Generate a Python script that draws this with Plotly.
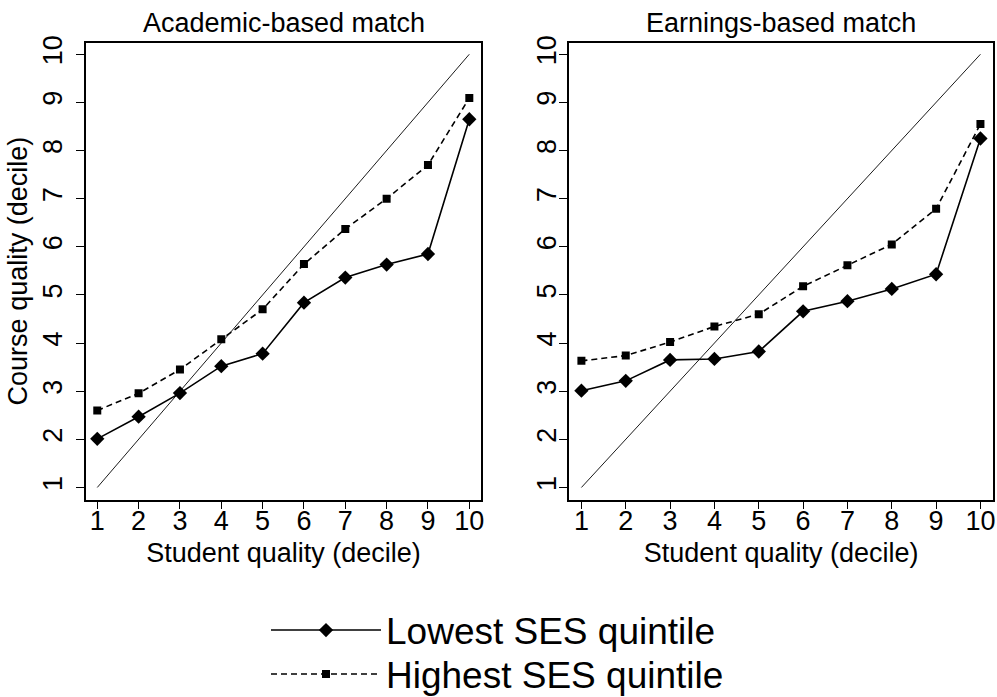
import plotly.graph_objects as go
from plotly.subplots import make_subplots

deciles = [1, 2, 3, 4, 5, 6, 7, 8, 9, 10]
tick_labels = ["1", "2", "3", "4", "5", "6", "7", "8", "9", "10"]

academic_lowest = [2.01, 2.47, 2.96, 3.52, 3.78, 4.84, 5.36, 5.63, 5.85, 8.65]
academic_highest = [2.60, 2.955, 3.45, 4.08, 4.70, 5.64, 6.37, 7.00, 7.70, 9.09]
earnings_lowest = [3.01, 3.215, 3.65, 3.67, 3.825, 4.66, 4.87, 5.125, 5.43, 8.25]
earnings_highest = [3.63, 3.74, 4.02, 4.345, 4.60, 5.18, 5.615, 6.05, 6.79, 8.55]

panel_titles = ["Academic-based match", "Earnings-based match"]
series_names = ["Lowest SES quintile", "Highest SES quintile"]

FONT = "Liberation Sans, Arial, sans-serif"
W, H = 997, 712   # figure a bit taller than the 697 window; the extra strip is blank

def fy(p):
    return 1 - p / H

def fx(p):
    return p / W

fig = make_subplots(rows=1, cols=2, horizontal_spacing=0.05)

panels = [(academic_lowest, academic_highest), (earnings_lowest, earnings_highest)]
for i, (low, high) in enumerate(panels):
    col = i + 1
    fig.add_trace(go.Scatter(x=deciles, y=deciles, mode="lines",
                             line=dict(color="black", width=0.9),
                             showlegend=False, hoverinfo="skip"), row=1, col=col)
    fig.add_trace(go.Scatter(x=deciles, y=low, mode="lines+markers", name=series_names[0],
                             line=dict(color="black", width=1.6),
                             marker=dict(symbol="diamond", size=11, color="black"),
                             legend="legend", showlegend=(i == 0)), row=1, col=col)
    fig.add_trace(go.Scatter(x=deciles, y=high, mode="lines+markers", name=series_names[1],
                             line=dict(color="black", width=1.6, dash="6px,4px"),
                             marker=dict(symbol="square", size=8, color="black"),
                             legend="legend2", showlegend=(i == 0)), row=1, col=col)

axis_common = dict(range=[0.72, 10.29], tickvals=deciles, ticktext=tick_labels,
                   showline=True, mirror=True, linecolor="black", linewidth=1.5,
                   ticks="outside", ticklen=8, tickwidth=1.3, tickcolor="black",
                   showgrid=False, zeroline=False, automargin=False,
                   ticklabelstandoff=-12,
                   tickfont=dict(family=FONT, size=27, color="black"))
yaxis_common = dict(range=[0.75, 10.24], tickvals=deciles, ticktext=tick_labels,
                    showline=True, mirror=True, linecolor="black", linewidth=1.5,
                    ticks="outside", ticklen=8, tickwidth=1.3, tickcolor="black",
                    showgrid=False, zeroline=False, tickangle=-90, automargin=False,
                    tickfont=dict(family=FONT, size=27, color="black"))

title_font = dict(family=FONT, size=27, color="black")
legend_common = dict(xanchor="left", yanchor="top", itemwidth=110,
                     font=dict(family=FONT, size=37, color="black"),
                     bgcolor="rgba(0,0,0,0)", borderwidth=0)

fig.update_layout(
    xaxis=dict(domain=[fx(85.7), fx(481.3)], **axis_common,
               title=dict(text="Student quality (decile)", font=title_font, standoff=8)),
    xaxis2=dict(domain=[fx(569), fx(993.3)], **axis_common,
                title=dict(text="Student quality (decile)", font=title_font, standoff=8)),
    yaxis=dict(domain=[fy(499.5), fy(42.7)], **yaxis_common, ticklabelstandoff=3,
               title=dict(text="Course quality (decile)", font=title_font, standoff=3)),
    yaxis2=dict(domain=[fy(499.5), fy(42.7)], **yaxis_common, ticklabelstandoff=-8),
    width=W, height=H,
    margin=dict(l=0, r=0, t=0, b=0),
    paper_bgcolor="white", plot_bgcolor="white",
    font=dict(family=FONT, color="black"),
    legend=dict(x=fx(266), y=fy(599.5), **legend_common),
    legend2=dict(x=fx(266), y=fy(643.5), **legend_common),
    annotations=[
        dict(text=panel_titles[0], x=fx((85.7 + 481.3) / 2), y=fy(23), xref="paper", yref="paper",
             xanchor="center", yanchor="middle", showarrow=False, font=title_font),
        dict(text=panel_titles[1], x=fx((569 + 993.3) / 2), y=fy(23), xref="paper", yref="paper",
             xanchor="center", yanchor="middle", showarrow=False, font=title_font),
    ],
)

fig.write_html("out.html", config={"displayModeBar": False},
               post_script="document.body.style.margin='0px';document.body.style.padding='0px';document.body.style.overflow='hidden';")
